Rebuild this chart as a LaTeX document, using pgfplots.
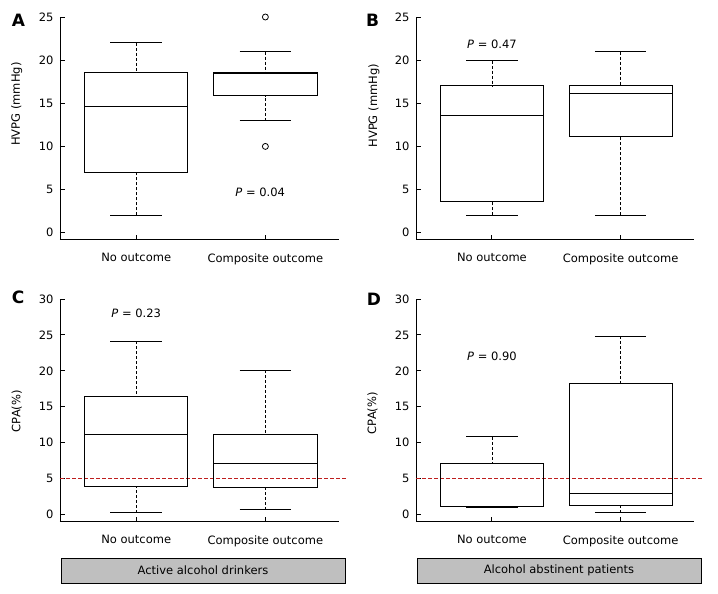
\documentclass[border=0pt]{standalone}
\usepackage{fontspec}
\setmainfont{DejaVu Sans}
\usepackage{pgfplots}
\pgfplotsset{compat=1.18}
\usepgfplotslibrary{statistics}
\definecolor{dred}{RGB}{190,30,30}
\newcommand\f{\fontsize{11.5pt}{13pt}\selectfont}
\newcommand\lf{\fontsize{17pt}{17pt}\selectfont\bfseries}
\pgfplotsset{
  boxplot/draw direction=y,
  boxplot/draw/lower whisker/.code={%
    \draw[dash pattern=on 3pt off 2pt,line width=0.8pt] (boxplot cs:\pgfplotsboxplotvalue{lower whisker}) -- (boxplot cs:\pgfplotsboxplotvalue{lower quartile});
    \draw[solid] (boxplot whisker cs:\pgfplotsboxplotvalue{lower whisker},0) -- (boxplot whisker cs:\pgfplotsboxplotvalue{lower whisker},1);
  },
  boxplot/draw/upper whisker/.code={%
    \draw[dash pattern=on 3pt off 2pt,line width=0.8pt] (boxplot cs:\pgfplotsboxplotvalue{upper whisker}) -- (boxplot cs:\pgfplotsboxplotvalue{upper quartile});
    \draw[solid] (boxplot whisker cs:\pgfplotsboxplotvalue{upper whisker},0) -- (boxplot whisker cs:\pgfplotsboxplotvalue{upper whisker},1);
  },
  panel/.style={
    scale only axis, height=222pt,
    axis lines*=left, axis line style={-, line width=0.9pt},
    tick align=inside, major tick length=4.5pt,
    tick style={line width=0.9pt, black},
    xmin=-0.59, xmax=1.57,
    xtick={0,1}, xticklabels={No outcome, Composite outcome},
    /pgf/number format/assume math mode=true,
    every tick label/.append style={font=\f},
    xticklabel style={yshift=-11pt},
    yticklabel style={xshift=-3pt},
    label style={font=\f},
    clip=false,
  },
  bx/.style={black, line width=0.9pt, mark=o, mark size=3pt, mark options={solid, line width=0.8pt}},
}
\begin{document}
\begin{tikzpicture}
\path[use as bounding box] (0,0) rectangle (718pt,-594pt);
% A
\begin{axis}[panel, width=279pt, at={(60pt,-239pt)}, anchor=south west,
  ymin=-0.73, ymax=25, ytick={0,5,10,15,20,25},
  ylabel={HVPG (mmHg)}, ylabel style={at={(axis description cs:-0.155,0.608)}, anchor=center, rotate=0}]
\addplot[bx, boxplot prepared={draw position=0, lower whisker=2, lower quartile=6.96, median=14.6, upper quartile=18.55, upper whisker=22, box extend=0.8, whisker extend=0.4}] coordinates {};
\addplot[bx, boxplot prepared={draw position=1, lower whisker=13, lower quartile=15.9, median=18.5, upper quartile=18.57, upper whisker=21, box extend=0.8, whisker extend=0.4}] table[row sep=\\, y index=0] {data\\ 25\\ 10\\};
\node[font=\f] at (axis cs:0.96,4.7) {\textit{P} = 0.04};
\end{axis}
% B
\begin{axis}[panel, width=278pt, at={(416pt,-239pt)}, anchor=south west,
  ymin=-0.73, ymax=25, ytick={0,5,10,15,20,25},
  ylabel={HVPG (mmHg)}, ylabel style={at={(axis description cs:-0.151,0.60)}, anchor=center, rotate=0}]
\addplot[bx, boxplot prepared={draw position=0, lower whisker=2, lower quartile=3.63, median=13.55, upper quartile=17.03, upper whisker=19.93, box extend=0.8, whisker extend=0.4}] coordinates {};
\addplot[bx, boxplot prepared={draw position=1, lower whisker=2.05, lower quartile=11.15, median=16.1, upper quartile=17.03, upper whisker=21, box extend=0.8, whisker extend=0.4}] coordinates {};
\node[font=\f] at (axis cs:0,21.8) {\textit{P} = 0.47};
\end{axis}
% C
\begin{axis}[panel, width=279pt, at={(60pt,-521pt)}, anchor=south west,
  ymin=-0.9, ymax=30, ytick={0,5,10,15,20,25,30},
  ylabel={CPA(\%)}, ylabel style={at={(axis description cs:-0.155,0.495)}, anchor=center, rotate=0}]
\addplot[dred, dash pattern=on 4pt off 2pt, line width=0.8pt] coordinates {(-0.59,5) (1.63,5)};
\addplot[bx, boxplot prepared={draw position=0, lower whisker=0.28, lower quartile=3.92, median=11.2, upper quartile=16.4, upper whisker=24.1, box extend=0.8, whisker extend=0.4}] coordinates {};
\addplot[bx, boxplot prepared={draw position=1, lower whisker=0.7, lower quartile=3.78, median=7.14, upper quartile=11.2, upper whisker=20.05, box extend=0.8, whisker extend=0.4}] coordinates {};
\node[font=\f] at (axis cs:0,28) {\textit{P} = 0.23};
\end{axis}
% D
\begin{axis}[panel, width=278pt, at={(416pt,-521pt)}, anchor=south west,
  ymin=-0.9, ymax=30, ytick={0,5,10,15,20,25,30},
  ylabel={CPA(\%)}, ylabel style={at={(axis description cs:-0.156,0.486)}, anchor=center, rotate=0}]
\addplot[dred, dash pattern=on 4pt off 2pt, line width=0.8pt] coordinates {(-0.59,5) (1.64,5)};
\addplot[bx, boxplot prepared={draw position=0, lower whisker=1.0, lower quartile=1.15, median=1.15, upper quartile=7.14, upper whisker=10.8, box extend=0.8, whisker extend=0.4}] coordinates {};
\addplot[bx, boxplot prepared={draw position=1, lower whisker=0.28, lower quartile=1.26, median=2.94, upper quartile=18.3, upper whisker=24.8, box extend=0.8, whisker extend=0.4}] coordinates {};
\node[font=\f] at (axis cs:0,22) {\textit{P} = 0.90};
\end{axis}
% panel letters
\node[font=\lf] at (18.5pt,-20pt) {A};
\node[font=\lf] at (372.5pt,-20.5pt) {B};
\node[font=\lf] at (18pt,-297pt) {C};
\node[font=\lf] at (374pt,-299pt) {D};
% group boxes
\node[draw, line width=0.9pt, fill=gray!50, minimum width=284pt, minimum height=25pt, inner sep=0pt, font=\f] at (203pt,-570.5pt) {Active alcohol drinkers};
\node[draw, line width=0.9pt, fill=gray!50, minimum width=284pt, minimum height=25pt, inner sep=0pt, font=\f] at (559pt,-570.5pt) {Alcohol abstinent patients};
\end{tikzpicture}
\end{document}
